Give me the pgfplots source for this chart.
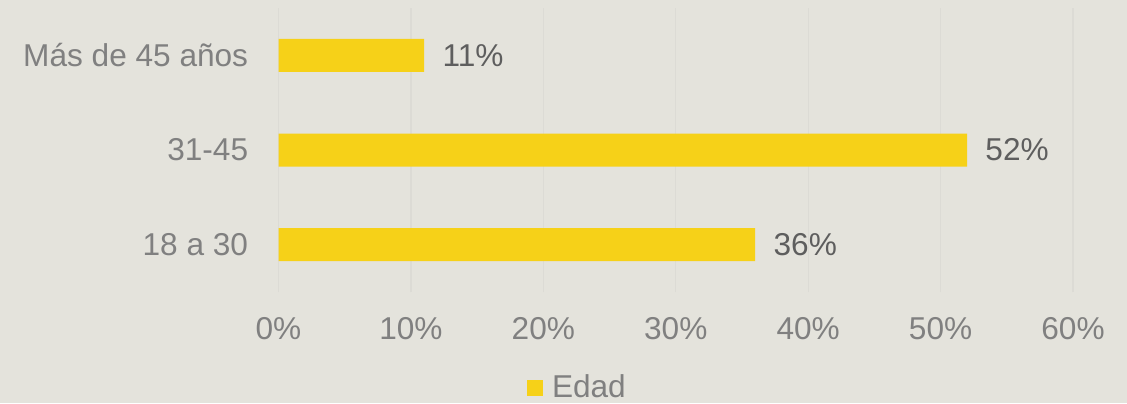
\documentclass[border=0pt]{standalone}
\usepackage{pgfplots}
\pgfplotsset{compat=1.18}
\usepackage{fontspec}
\setmainfont{Liberation Sans}
\definecolor{bg}{HTML}{E4E3DC}
\definecolor{barY}{HTML}{F6D118}
\definecolor{gridc}{HTML}{DCDBD5}
\definecolor{tickc}{HTML}{808080}
\definecolor{labc}{HTML}{5E5E5E}
\begin{document}
\begin{tikzpicture}
\fill[bg] (0,0) rectangle (563.5pt,201.5pt);
\useasboundingbox (0,0) rectangle (563.5pt,201.5pt);
\begin{axis}[
  at={(139.25pt,55.5pt)}, anchor=south west,
  scale only axis, width=397.25pt, height=142pt,
  xbar, bar width=16.5pt,
  xmin=0, xmax=60, ymin=-0.5, ymax=2.5,
  xtick={0,10,20,30,40,50,60},
  xticklabels={0\%,10\%,20\%,30\%,40\%,50\%,60\%},
  ytick={0,1,2},
  yticklabels={18 a 30,31-45,Más de 45 años},
  major tick length=0pt,
  axis line style={draw=none},
  xmajorgrids, grid style={gridc, line width=0.6pt},
  ymajorgrids=false,
  tick label style={font=\fontsize{15.8}{18}\selectfont, text=tickc, inner sep=0pt},
  xticklabel style={anchor=north, yshift=-12.5pt},
  yticklabel style={anchor=east, xshift=-15pt},
  /pgf/number format/assume math mode=true,
  nodes near coords={\pgfmathprintnumber{\pgfplotspointmeta}\%},
  every node near coord/.append style={font=\fontsize{15.8}{18}\selectfont, text=labc, anchor=west, inner sep=0pt, xshift=9pt},
  legend style={at={(0.3128,-0.338)}, anchor=west, draw=none, fill=none, inner sep=0pt, outer sep=0pt,
    font=\fontsize{15.8}{18}\selectfont, text=tickc,
    nodes={inner sep=0pt}},
  legend image code/.code={\fill[barY] (0pt,-4pt) rectangle (8pt,4pt);},
]
\addplot[fill=barY, draw=none] coordinates {(36,0) (52,1) (11,2)};
\addlegendentry{\hspace{4.5pt}Edad}
\end{axis}
\end{tikzpicture}
\end{document}
